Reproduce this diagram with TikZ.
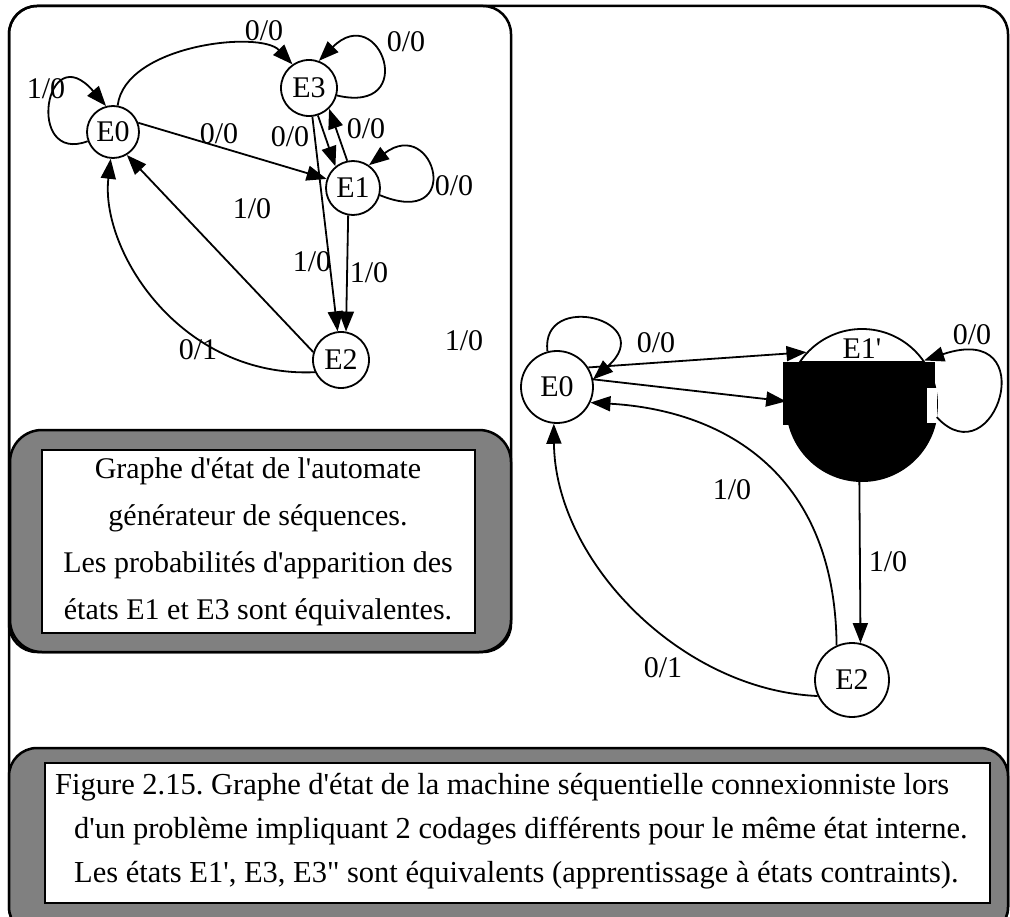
\documentclass[tikz,border=0pt]{standalone}
\usepackage{fontspec}
\setmainfont{Liberation Serif}[Ligatures=TeXOff]
\usetikzlibrary{arrows.meta}
\frenchspacing

\begin{document}
\begin{tikzpicture}[x=1pt,y=-1pt,
  etat/.style={draw,circle,line width=1.8pt,inner sep=0pt,font=\fontsize{30}{32}\selectfont},
  lbl/.style={inner sep=0pt,font=\fontsize{30}{32}\selectfont},
  fleche/.style={line width=1.8pt,-{Triangle[length=20pt,width=15pt]}},
  cadre/.style={line width=2.5pt,rounded corners=28pt}]
  \useasboundingbox (0,0) rectangle (1010,917);
  \draw[cadre] (9,6) rectangle (1008,935);
  \draw[cadre] (9,6) rectangle (511,652);

  % premier graphe
  \node[etat,minimum size=52pt] (L0) at (113,132) {E0};
  \node[etat,minimum size=56pt] (L3) at (309,88) {E3};
  \node[etat,minimum size=54pt] (L1) at (353,188) {E1};
  \node[etat,minimum size=56pt] (L2) at (341,360) {E2};
  \draw[fleche] (L0.200) .. controls (25,165) and (45,35) .. (L0.105);
  \draw[fleche] (L0.80) .. controls (125,45) and (260,30) .. (L3.125);
  \draw[fleche] (L3.345) .. controls (420,115) and (380,0) .. (L3.70);
  \draw[fleche] (L0.20) -- (L1.161);
  \draw[fleche] (L3.288) -- (L1.129);
  \draw[fleche] (L1.102) -- (L3.314);
  \draw[fleche] (L3) -- (L2);
  \draw[fleche] (L1.260) -- (L2.80);
  \draw[fleche] (L1.345) .. controls (465,230) and (435,115) .. (L1.55);
  \draw[fleche] (L2.164) -- (L0.301);
  \draw[fleche] (L2.205) .. controls (180,378) and (100,250) .. (L0.265);
  \node[lbl] (a1) at (46,89) {1/0};
  \node[lbl] (a2) at (264,31) {0/0};
  \node[lbl] (a3) at (406,42) {0/0};
  \node[lbl] (a4) at (219,134) {0/0};
  \node[lbl] (a5) at (290,137) {0/0};
  \node[lbl] (a6) at (366,129) {0/0};
  \node[lbl] (a7) at (454,186) {0/0};
  \node[lbl] (a8) at (252,209) {1/0};
  \node[lbl] (a9) at (312,262) {1/0};
  \node[lbl] (a10) at (369,273) {1/0};
  \node[lbl] (a11) at (198,350) {0/1};
  \node[lbl] (a12) at (464,341) {1/0};

  % second graphe
  \node[etat,minimum size=72pt] (R0) at (557,387) {E0};
  \node[etat,minimum size=150pt] (R1) at (862,404) {};
  \node[lbl] (R1t) at (862,349) {E1'};
  \node[etat,minimum size=74pt] (R2) at (852,680) {E2};
  \begin{scope}
    \clip (783,362) rectangle (937,490);
    \fill (862,406) circle (76pt);
  \end{scope}
  \fill (783,362) rectangle (935,425);
  \fill[white] (927,388) rectangle (937,423);
  \draw[fleche] (R0.105) .. controls (540,290) and (660,320) .. (R0.12);
  \draw[fleche] (R0.32) -- (R1.137);
  \draw[fleche] (R0.12) -- (R1.178);
  \draw[fleche] (R1.350) .. controls (995,480) and (1045,320) .. (R1.35);
  \draw[fleche] (R1.268) -- (R2.77);
  \draw[fleche] (R2.114) .. controls (835,470) and (720,410) .. (R0.335);
  \draw[fleche] (R2.205) .. controls (680,690) and (555,560) .. (R0.265);
  \node[lbl] (b1) at (656,343) {0/0};
  \node[lbl] (b2) at (972,335) {0/0};
  \node[lbl] (b3) at (732,490) {1/0};
  \node[lbl] (b4) at (888,562) {1/0};
  \node[lbl] (b5) at (663,668) {0/1};

  % legendes
  \draw[cadre,rounded corners=32pt,fill=gray] (10,430) rectangle (511,652);
  \draw[line width=2pt,fill=white] (42,450) rectangle (475,633);
  \node[lbl,align=center,font=\fontsize{30}{47}\selectfont] (texte) at (258,542)
    {Graphe d'état de l'automate\\générateur de séquences.\\Les probabilités d'apparition des\\états E1 et E3 sont équivalentes.};
  \draw[cadre,fill=gray] (9,748) rectangle (1008,935);
  \draw[line width=2pt,fill=white] (45,763) rectangle (990,903);
  \node[lbl,anchor=base west,align=left,font=\fontsize{30.5}{44}\selectfont] (legende) at (55,882)
    {Figure 2.15. Graphe d'état de la machine séquentielle connexionniste lors\\
     \hspace*{19pt}d'un problème impliquant 2 codages différents pour le même état interne.\\
     \hspace*{19pt}Les états E1', E3, E3" sont équivalents (apprentissage à états contraints).};
\end{tikzpicture}
\end{document}
